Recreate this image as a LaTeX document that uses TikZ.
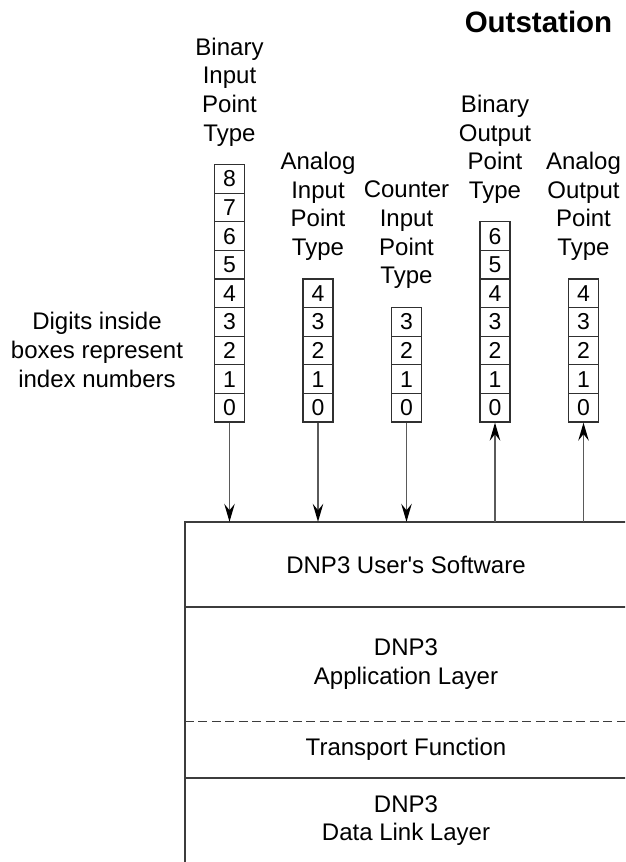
\documentclass[tikz,border=0pt]{standalone}
\usepackage{fontspec}
\setmainfont{Liberation Sans}
\usetikzlibrary{arrows.meta,calc}
\definecolor{framecol}{HTML}{3C3C3C}
\definecolor{cellcol}{HTML}{303030}
\definecolor{arrowcol}{HTML}{5A5A5A}
\begin{document}
\begin{tikzpicture}[x=1pt,y=1pt,
  cell/.style={draw=cellcol, line width=1.3pt, minimum width=30pt,
    minimum height=28.6pt, inner sep=0pt, font=\fontsize{23}{26}\selectfont},
  lbl/.style={align=center, inner sep=0pt, font=\fontsize{24}{28.6}\selectfont},
  layer/.style={minimum width=442pt, inner sep=0pt, align=center,
    font=\fontsize{24}{28.6}\selectfont},
  arr/.style={draw=arrowcol, line width=1.6pt,
    -{Stealth[length=18pt,width=10.5pt,inset=6.5pt,color=black]}},
  sepline/.style={draw=framecol, line width=1.7pt}]
\useasboundingbox (0,0) rectangle (625,-862);
\clip (0,0) rectangle (625,-862);

% title
\node[inner sep=0pt, font=\fontsize{29.5}{32}\selectfont\bfseries] (title) at (538.5,-21.7) {Outstation};

% stacks of index cells, one column per point type
\foreach \c/\x/\n in {bi/229.5/8, ai/318/4, ci/406.5/3, bo/495/6, ao/583.5/4}{
  \foreach \k in {0,...,\n}{
    \node[cell] (\c\k) at (\x,{-407.7+28.6*\k}) {\k};
  }
}

% column headings
\node[lbl] (bilbl) at ($(bi8.north)+(0,72)$) {Binary\\Input\\Point\\Type};
\node[lbl] (ailbl) at ($(ai4.north)+(0,72)$) {Analog\\Input\\Point\\Type};
\node[lbl] (cilbl) at ($(ci3.north)+(0,72)$) {Counter\\Input\\Point\\Type};
\node[lbl] (bolbl) at ($(bo6.north)+(0,72)$) {Binary\\Output\\Point\\Type};
\node[lbl] (aolbl) at ($(ao4.north)+(0,72)$) {Analog\\Output\\Point\\Type};

% note on the left
\node[lbl] (note) at (97,-350) {Digits inside\\boxes represent\\index numbers};

% protocol layers
\node[layer, minimum height=85pt] (usr) at (406,-564.5) {DNP3 User\textquotesingle s Software};
\node[layer, minimum height=114pt] (app) at (406,-664) {DNP3\\Application Layer};
\node[layer, minimum height=57pt] (trn) at (406,-749.5) {Transport Function};
\node[layer, minimum height=85pt] (dll) at (406,-820.5) {DNP3\\Data Link Layer};

\draw[sepline] (usr.north east) -- (usr.north west) -- (dll.south west)
  -- (dll.south east) -- cycle;
\draw[sepline] (usr.south west) -- (usr.south east);
\draw[draw=framecol, line width=1.2pt, dash pattern=on 9pt off 4.5pt]
  (app.south west) -- (app.south east);
\draw[sepline] (trn.south west) -- (trn.south east);

% data flow between point tables and user software
\draw[arr] (bi0.south) -- (bi0.south |- usr.north);
\draw[arr] (ai0.south) -- (ai0.south |- usr.north);
\draw[arr] (ci0.south) -- (ci0.south |- usr.north);
\draw[arr] (bo0.south |- usr.north) -- (bo0.south);
\draw[arr] (ao0.south |- usr.north) -- (ao0.south);
\end{tikzpicture}
\end{document}
